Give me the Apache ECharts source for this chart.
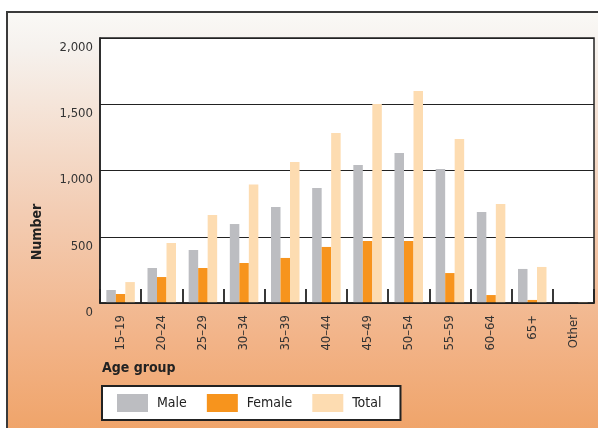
<!DOCTYPE html>
<html>
<head>
<meta charset="utf-8">
<script src="https://cdn.jsdelivr.net/npm/echarts@6/dist/echarts.min.js"></script>
<style>
  html, body { margin: 0; padding: 0; background: #fff; }
  #chart { width: 598px; height: 428px; }
</style>
</head>
<body>
<div id="chart"></div>
<script>
// age groups and counts
const ageGroups = ['15–19', '20–24', '25–29', '30–34', '35–39', '40–44', '45–49', '50–54', '55–59', '60–64', '65+', 'Other'];
const maleValues = [98, 264, 400, 596, 725, 868, 1042, 1132, 1011, 687, 257, 4];
const femaleValues = [68, 196, 264, 302, 340, 423, 468, 468, 226, 60, 23, 0];
const totalValues = [158, 453, 664, 895, 1064, 1283, 1502, 1600, 1238, 747, 272, 6];
const yTicks = [0, 500, 1000, 1500, 2000];

const font = "'DejaVu Sans Condensed', 'Liberation Sans Narrow', 'Liberation Sans', sans-serif";
const colors = { male: '#bcbdc1', female: '#f7941d', total: '#fddcb1' };

const chart = echarts.init(document.getElementById('chart'), null, { renderer: 'canvas' });

const makeBar = (name, data, color) => ({
    name: name,
    type: 'bar',
    data: data,
    barWidth: 9.5,
    barGap: '0%',
    itemStyle: { color: color },
    z: 3
});

const option = {
    backgroundColor: '#fff',
    animation: false,
    textStyle: { fontFamily: font },
    graphic: [
        {
            type: 'rect',
            z: -10,
            shape: { x: 7, y: 12, width: 620, height: 440 },
            style: {
                fill: new echarts.graphic.LinearGradient(0, 0, 0, 1, [
                    { offset: 0, color: '#faf9f6' },
                    { offset: 0.08, color: '#f6f2ee' },
                    { offset: 0.45, color: '#f3cdb4' },
                    { offset: 0.75, color: '#f2b387' },
                    { offset: 1, color: '#efa062' }
                ]),
                stroke: '#3a3a3a',
                lineWidth: 2
            }
        },
        {
            type: 'text',
            x: 37.5,
            y: 232,
            rotation: Math.PI / 2,
            style: {
                text: 'Number',
                font: 'bold 14px ' + font,
                fill: '#222',
                align: 'center',
                verticalAlign: 'middle'
            }
        },
        {
            type: 'text',
            x: 102,
            y: 368,
            style: {
                text: 'Age group',
                font: 'bold 14px ' + font,
                fill: '#222',
                align: 'left',
                verticalAlign: 'middle'
            }
        }
    ],
    grid: {
        left: 100,
        top: 38,
        right: 4,
        bottom: 125,
        show: true,
        backgroundColor: '#fff',
        borderColor: '#222',
        borderWidth: 1.5
    },
    legend: {
        left: 102,
        top: 386,
        orient: 'horizontal',
        backgroundColor: '#fff',
        borderColor: '#222',
        borderWidth: 2,
        borderRadius: 0,
        padding: [8, 19, 8, 15],
        itemWidth: 31,
        itemHeight: 18,
        itemGap: 20,
        icon: 'rect',
        textStyle: {
            fontFamily: font,
            fontSize: 14,
            color: '#222',
            padding: [0, 0, 0, 4]
        },
        data: ['Male', 'Female', 'Total']
    },
    xAxis: {
        type: 'category',
        data: ageGroups,
        z: 5,
        axisLine: { show: true, lineStyle: { color: '#222', width: 1.5 } },
        axisTick: { show: true, inside: true, length: 14, lineStyle: { color: '#222', width: 1.8 } },
        axisLabel: {
            rotate: 90,
            margin: 12,
            fontFamily: font,
            fontSize: 13,
            color: '#333',
            interval: 0
        },
        splitLine: { show: false }
    },
    yAxis: {
        type: 'value',
        min: yTicks[0],
        max: yTicks[yTicks.length - 1],
        interval: 500,
        z: 2,
        axisLine: { show: true, lineStyle: { color: '#222', width: 1.5 } },
        axisTick: { show: false },
        axisLabel: {
            margin: 7,
            fontFamily: font,
            fontSize: 13,
            color: '#333',
            verticalAlign: 'top',
            padding: [3, 0, 0, 0],
            formatter: v => v.toLocaleString('en-US')
        },
        splitLine: { show: true, lineStyle: { color: '#222', width: 1.2 } }
    },
    series: [
        makeBar('Male', maleValues, colors.male),
        makeBar('Female', femaleValues, colors.female),
        makeBar('Total', totalValues, colors.total)
    ]
};

chart.setOption(option);
</script>
</body>
</html>
